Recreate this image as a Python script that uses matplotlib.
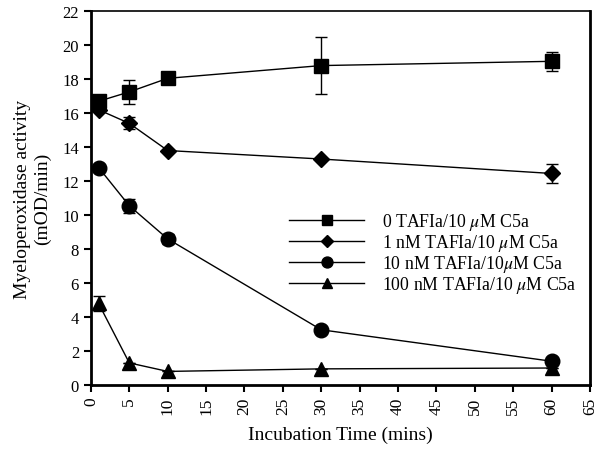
import matplotlib.pyplot as plt
import numpy as np

plt.rcParams['font.family'] = ['Liberation Serif', 'DejaVu Serif']
plt.rcParams['mathtext.fontset'] = 'stix'

time = [1, 5, 10, 30, 60]
sq_y = [16.7, 17.25, 18.05, 18.8, 19.05]
sq_err = [0.0, 0.7, 0.0, 1.7, 0.55]
dm_y = [16.2, 15.4, 13.8, 13.3, 12.45]
dm_err = [0.0, 0.35, 0.0, 0.0, 0.55]
ci_y = [12.8, 10.55, 8.6, 3.25, 1.4]
ci_err = [0.0, 0.4, 0.3, 0.0, 0.0]
tr_y = [4.8, 1.3, 0.8, 0.95, 1.0]
tr_err = [0.45, 0.0, 0.0, 0.0, 0.0]

labels = [r"0 TAFIa/10 $\mu$M C5a",
          r"1 nM TAFIa/10 $\mu$M C5a",
          r"10 nM TAFIa/10$\mu$M C5a",
          r"100 nM TAFIa/10 $\mu$M C5a"]

fig = plt.figure(figsize=(6.02, 4.52), dpi=100)
ax = fig.add_axes([0.151, 0.146, 0.829, 0.827])

series = [(sq_y, sq_err, 's', 10), (dm_y, dm_err, 'D', 8),
          (ci_y, ci_err, 'o', 10.5), (tr_y, tr_err, '^', 10)]
handles = []
for (y, e, m, ms), lab in zip(series, labels):
    ax.errorbar(time, y, yerr=e, color='black', lw=1, marker=m, ms=ms,
                capsize=4, elinewidth=1, capthick=1)
    h, = ax.plot([], [], color='black', lw=1, marker=m, ms=ms * 0.75)
    handles.append(h)

ax.legend(handles, labels, loc='upper left', bbox_to_anchor=(0.38, 0.49),
          frameon=False, handlelength=4.2, fontsize=12.8, labelspacing=0.0,
          handletextpad=1.0, borderpad=0)

ax.set_xlim(0, 65)
ax.set_ylim(0, 22)
ax.set_xticks(np.arange(0, 66, 5))
ax.set_yticks(np.arange(0, 23, 2))
ax.tick_params(axis='x', labelrotation=90, direction='out', length=5, width=1.5, labelsize=12.5)
ax.tick_params(axis='y', direction='out', length=5, width=1.5, labelsize=12)
for s in ['left', 'bottom', 'right']:
    ax.spines[s].set_linewidth(2)
ax.spines['top'].set_linewidth(1.2)

ax.set_xlabel("Incubation Time (mins)", fontsize=14, labelpad=8)
ax.set_ylabel("Myeloperoxidase activity\n(mOD/min)", fontsize=14, labelpad=8)

fig.savefig("out.png", dpi=100)
